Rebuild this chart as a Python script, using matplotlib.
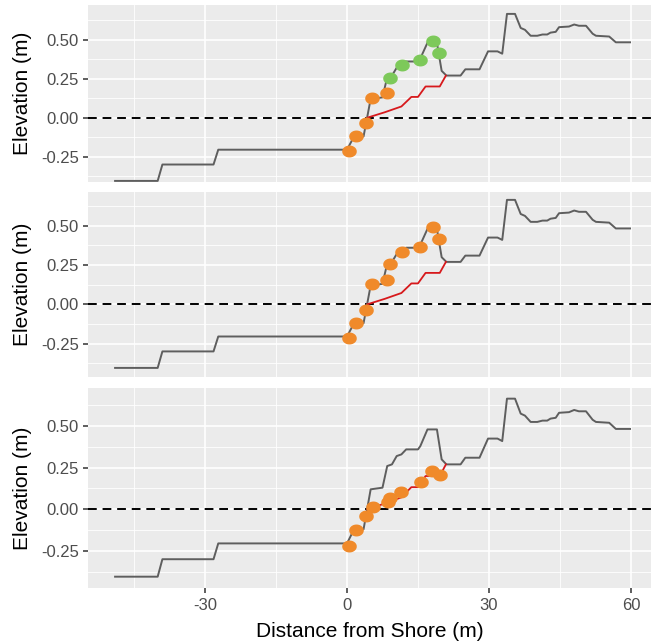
import numpy as np
import matplotlib
matplotlib.use("Agg")
import matplotlib.pyplot as plt
from matplotlib.path import Path

# ground profile (gray line)
profile_x = [-49, -40, -39, -28.2, -27.2, 0, 1.5, 3.5, 5.0, 7.5, 8.5, 9.5, 10.5, 11.5, 12.5,
             15.0, 15.5, 17.0, 19.0, 20.0, 21.0, 24.0, 25.0, 28.0, 29.8, 31.8, 32.8, 33.8,
             35.5, 36.7, 37.6, 38.8, 40.2, 41.3, 42.3, 43.0, 44.1, 44.8, 46.9, 48.0, 49.0,
             50.5, 51.9, 52.6, 55.4, 56.8, 59.8]
profile_y = [-0.405, -0.405, -0.30, -0.30, -0.205, -0.205, -0.12, -0.12, 0.12, 0.13, 0.26,
             0.27, 0.32, 0.33, 0.36, 0.36, 0.38, 0.48, 0.48, 0.30, 0.27, 0.27, 0.31, 0.31,
             0.425, 0.425, 0.41, 0.665, 0.665, 0.575, 0.563, 0.525, 0.525, 0.533, 0.533,
             0.545, 0.55, 0.58, 0.584, 0.597, 0.589, 0.589, 0.538, 0.525, 0.52, 0.483, 0.483]

# lower (red) line
red_x = [4.3, 8.0, 11.5, 13.6, 15.0, 16.6, 19.6, 20.9]
red_y = [0.0, 0.035, 0.072, 0.133, 0.133, 0.20, 0.20, 0.27]

# sample points on the profile
pts_x = [0.5, 1.8, 4.1, 5.3, 8.5, 9.0, 11.6, 15.5, 18.2, 19.4]
pts_y = [-0.215, -0.12, -0.035, 0.128, 0.157, 0.255, 0.335, 0.367, 0.494, 0.415]
top_colors = ["orange"] * 5 + ["green"] * 5

# points along the red line (bottom panel)
low_x = [0.5, 1.8, 4.1, 5.4, 8.6, 9.1, 11.5, 15.6, 18.0, 19.7]
low_y = [-0.22, -0.125, -0.04, 0.015, 0.045, 0.065, 0.105, 0.165, 0.23, 0.205]

ORANGE = "#F08A2A"
GREEN = "#7DC95A"
GRAY = "#5E5E5E"
RED = "#D7191C"

t = np.linspace(0, 2 * np.pi, 40)
ellipse = Path(np.column_stack([np.cos(t), 0.8 * np.sin(t)]))

plt.rcParams["font.family"] = ["Liberation Sans", "DejaVu Sans"]

W, H = 651, 644
fig = plt.figure(figsize=(W / 100, H / 100), dpi=100)

# (top px, bottom px, ylim)
panels = [(5, 182, (-0.412, 0.722)),
          (191.7, 376.7, (-0.461, 0.717)),
          (388, 588, (-0.473, 0.729))]
left = 88

axes = []
for i, (ptop, pbot, ylim) in enumerate(panels):
    ax = fig.add_axes([left / W, (H - pbot) / H, (W - left) / W, (pbot - ptop) / H])
    ax.set_facecolor("#EBEBEB")
    ax.set_xlim(-54.72, 64.23)
    ax.set_ylim(*ylim)
    ax.set_xticks([-30, 0, 30, 60])
    ax.set_xticks([-45, -15, 15, 45], minor=True)
    ax.set_yticks([-0.25, 0.0, 0.25, 0.5])
    ax.set_yticks([-0.375, -0.125, 0.125, 0.375, 0.625], minor=True)
    ax.set_yticklabels(["-0.25", "0.00", "0.25", "0.50"])
    ax.grid(which="major", color="white", linewidth=1.2)
    ax.grid(which="minor", color="white", linewidth=0.6)
    ax.set_axisbelow(True)
    for s in ax.spines.values():
        s.set_visible(False)
    ax.tick_params(axis="y", which="major", length=3.5, width=1.1, color="#333333",
                   labelsize=12, labelcolor="#4D4D4D", pad=3)
    ax.tick_params(which="minor", length=0)
    if i < 2:
        ax.tick_params(axis="x", which="major", length=0, labelbottom=False)
    else:
        ax.tick_params(axis="x", which="major", length=3.5, width=1.1, color="#333333",
                       labelsize=12, labelcolor="#4D4D4D", pad=4)
        ax.set_xticklabels(["-30", "0", "30", "60"])
        ax.set_xlabel("Distance from Shore (m)", fontsize=15, labelpad=6)
    ax.set_ylabel("Elevation (m)", fontsize=15)
    ax.yaxis.set_label_coords(-0.10, 0.5)

    ax.axhline(0, color="black", linewidth=1.4, dashes=(4.5, 3), zorder=3)
    ax.plot(profile_x, profile_y, color=GRAY, linewidth=1.4, zorder=4)
    ax.plot(red_x, red_y, color=RED, linewidth=1.3, zorder=4)
    axes.append(ax)

ax_top, ax_mid, ax_bot = axes

for x, y, c in zip(pts_x, pts_y, top_colors):
    ax_top.plot(x, y, marker=ellipse, markersize=9.5, linestyle="none",
                color=ORANGE if c == "orange" else GREEN, zorder=5)
ax_mid.plot(pts_x, pts_y, marker=ellipse, markersize=9.5, linestyle="none",
            color=ORANGE, zorder=5)
ax_bot.plot(low_x, low_y, marker=ellipse, markersize=9.5, linestyle="none",
            color=ORANGE, zorder=5)

fig.savefig("out.png", dpi=100)
